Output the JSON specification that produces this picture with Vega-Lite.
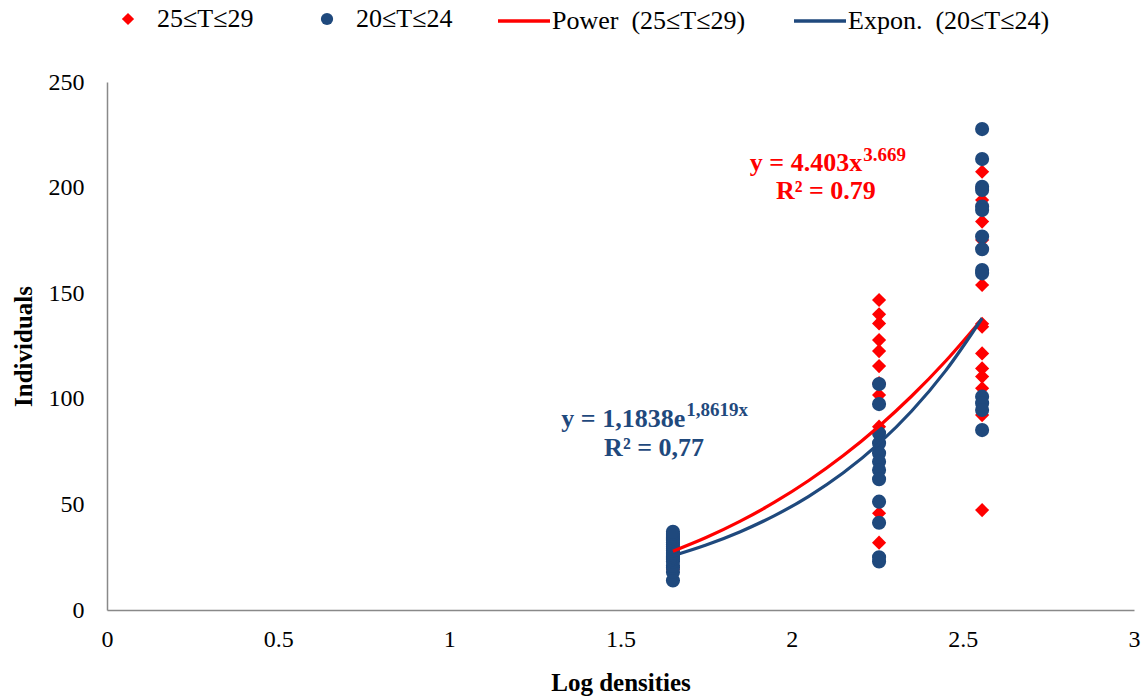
{
  "$schema": "https://vega.github.io/schema/vega-lite/v6.json",
  "width": 1027,
  "height": 528,
  "autosize": {"type": "none"},
  "padding": {"left": 107, "top": 82, "right": 13, "bottom": 89},
  "background": "white",
  "config": {
    "view": {"stroke": null},
    "font": "Liberation Serif",
    "axis": {
      "grid": false,
      "ticks": false,
      "domainColor": "#898989",
      "domainWidth": 1.5,
      "labelFont": "Liberation Serif",
      "labelFontSize": 24,
      "labelColor": "#000000",
      "titleFont": "Liberation Serif",
      "titleFontSize": 25,
      "titleFontWeight": "bold",
      "titleColor": "#000000"
    },
    "legend": {
      "labelFont": "Liberation Serif",
      "labelFontSize": 26,
      "labelColor": "#000000",
      "labelLimit": 0,
      "orient": "none",
      "direction": "horizontal",
      "padding": 0,
      "title": null
    }
  },
  "layer": [
    {
      "data": {
        "values": [
          {"x": 1.6532, "y": 19, "series": "25≤T≤29"},
          {"x": 1.6532, "y": 20, "series": "25≤T≤29"},
          {"x": 1.6532, "y": 21, "series": "25≤T≤29"},
          {"x": 1.6532, "y": 23, "series": "25≤T≤29"},
          {"x": 1.6532, "y": 24, "series": "25≤T≤29"},
          {"x": 1.6532, "y": 25, "series": "25≤T≤29"},
          {"x": 1.6532, "y": 27, "series": "25≤T≤29"},
          {"x": 1.6532, "y": 28, "series": "25≤T≤29"},
          {"x": 1.6532, "y": 30, "series": "25≤T≤29"},
          {"x": 1.6532, "y": 31, "series": "25≤T≤29"},
          {"x": 1.6532, "y": 32, "series": "25≤T≤29"},
          {"x": 1.6532, "y": 34, "series": "25≤T≤29"},
          {"x": 1.6532, "y": 35, "series": "25≤T≤29"},
          {"x": 1.6532, "y": 36, "series": "25≤T≤29"},
          {"x": 2.2553, "y": 146.8, "series": "25≤T≤29"},
          {"x": 2.2553, "y": 140, "series": "25≤T≤29"},
          {"x": 2.2553, "y": 135.7, "series": "25≤T≤29"},
          {"x": 2.2553, "y": 127.8, "series": "25≤T≤29"},
          {"x": 2.2553, "y": 122.6, "series": "25≤T≤29"},
          {"x": 2.2553, "y": 115.5, "series": "25≤T≤29"},
          {"x": 2.2553, "y": 107.5, "series": "25≤T≤29"},
          {"x": 2.2553, "y": 101.8, "series": "25≤T≤29"},
          {"x": 2.2553, "y": 86.8, "series": "25≤T≤29"},
          {"x": 2.2553, "y": 74.3, "series": "25≤T≤29"},
          {"x": 2.2553, "y": 45.8, "series": "25≤T≤29"},
          {"x": 2.2553, "y": 31.9, "series": "25≤T≤29"},
          {"x": 2.5563, "y": 207.5, "series": "25≤T≤29"},
          {"x": 2.5563, "y": 199.7, "series": "25≤T≤29"},
          {"x": 2.5563, "y": 194.1, "series": "25≤T≤29"},
          {"x": 2.5563, "y": 183.9, "series": "25≤T≤29"},
          {"x": 2.5563, "y": 175.2, "series": "25≤T≤29"},
          {"x": 2.5563, "y": 153.9, "series": "25≤T≤29"},
          {"x": 2.5563, "y": 135.5, "series": "25≤T≤29"},
          {"x": 2.5563, "y": 134.1, "series": "25≤T≤29"},
          {"x": 2.5563, "y": 121.5, "series": "25≤T≤29"},
          {"x": 2.5563, "y": 114.4, "series": "25≤T≤29"},
          {"x": 2.5563, "y": 110.5, "series": "25≤T≤29"},
          {"x": 2.5563, "y": 105, "series": "25≤T≤29"},
          {"x": 2.5563, "y": 92.3, "series": "25≤T≤29"},
          {"x": 2.5563, "y": 47.3, "series": "25≤T≤29"},
          {"x": 1.6532, "y": 14, "series": "20≤T≤24"},
          {"x": 1.6532, "y": 18, "series": "20≤T≤24"},
          {"x": 1.6532, "y": 20, "series": "20≤T≤24"},
          {"x": 1.6532, "y": 21, "series": "20≤T≤24"},
          {"x": 1.6532, "y": 23, "series": "20≤T≤24"},
          {"x": 1.6532, "y": 24, "series": "20≤T≤24"},
          {"x": 1.6532, "y": 25, "series": "20≤T≤24"},
          {"x": 1.6532, "y": 26, "series": "20≤T≤24"},
          {"x": 1.6532, "y": 27, "series": "20≤T≤24"},
          {"x": 1.6532, "y": 28, "series": "20≤T≤24"},
          {"x": 1.6532, "y": 29, "series": "20≤T≤24"},
          {"x": 1.6532, "y": 30, "series": "20≤T≤24"},
          {"x": 1.6532, "y": 31, "series": "20≤T≤24"},
          {"x": 1.6532, "y": 32, "series": "20≤T≤24"},
          {"x": 1.6532, "y": 33, "series": "20≤T≤24"},
          {"x": 1.6532, "y": 34, "series": "20≤T≤24"},
          {"x": 1.6532, "y": 35, "series": "20≤T≤24"},
          {"x": 1.6532, "y": 36, "series": "20≤T≤24"},
          {"x": 1.6532, "y": 37, "series": "20≤T≤24"},
          {"x": 2.2553, "y": 107, "series": "20≤T≤24"},
          {"x": 2.2553, "y": 97.5, "series": "20≤T≤24"},
          {"x": 2.2553, "y": 83.7, "series": "20≤T≤24"},
          {"x": 2.2553, "y": 78.9, "series": "20≤T≤24"},
          {"x": 2.2553, "y": 74.2, "series": "20≤T≤24"},
          {"x": 2.2553, "y": 70.2, "series": "20≤T≤24"},
          {"x": 2.2553, "y": 66.3, "series": "20≤T≤24"},
          {"x": 2.2553, "y": 61.9, "series": "20≤T≤24"},
          {"x": 2.2553, "y": 51.3, "series": "20≤T≤24"},
          {"x": 2.2553, "y": 41.3, "series": "20≤T≤24"},
          {"x": 2.2553, "y": 25, "series": "20≤T≤24"},
          {"x": 2.2553, "y": 23, "series": "20≤T≤24"},
          {"x": 2.5563, "y": 227.7, "series": "20≤T≤24"},
          {"x": 2.5563, "y": 213.5, "series": "20≤T≤24"},
          {"x": 2.5563, "y": 200.4, "series": "20≤T≤24"},
          {"x": 2.5563, "y": 198.9, "series": "20≤T≤24"},
          {"x": 2.5563, "y": 191, "series": "20≤T≤24"},
          {"x": 2.5563, "y": 189.4, "series": "20≤T≤24"},
          {"x": 2.5563, "y": 176.8, "series": "20≤T≤24"},
          {"x": 2.5563, "y": 170.8, "series": "20≤T≤24"},
          {"x": 2.5563, "y": 161, "series": "20≤T≤24"},
          {"x": 2.5563, "y": 159.4, "series": "20≤T≤24"},
          {"x": 2.5563, "y": 101, "series": "20≤T≤24"},
          {"x": 2.5563, "y": 97.9, "series": "20≤T≤24"},
          {"x": 2.5563, "y": 94.7, "series": "20≤T≤24"},
          {"x": 2.5563, "y": 85.2, "series": "20≤T≤24"}
        ]
      },
      "mark": {"type": "point", "filled": true, "opacity": 1, "strokeWidth": 0, "size": 200},
      "encoding": {
        "x": {
          "field": "x",
          "type": "quantitative",
          "scale": {"domain": [0, 3], "nice": false},
          "axis": {
            "title": "Log densities",
            "values": [0, 0.5, 1, 1.5, 2, 2.5, 3],
            "labelExpr": "'' + datum.value",
            "labelFont": "Liberation Serif",
            "labelFontSize": 24,
            "labelPadding": 17,
            "titleFont": "Liberation Serif",
            "titlePadding": 19,
            "labelFlush": false
          }
        },
        "y": {
          "field": "y",
          "type": "quantitative",
          "scale": {"domain": [0, 250], "nice": false},
          "axis": {
            "title": "Individuals",
            "values": [0, 50, 100, 150, 200, 250],
            "labelFont": "Liberation Serif",
            "labelFontSize": 24,
            "labelPadding": 23,
            "titleFont": "Liberation Serif",
            "titlePadding": 12
          }
        },
        "fill": {
          "field": "series",
          "type": "nominal",
          "scale": {"domain": ["25≤T≤29", "20≤T≤24"], "range": ["#FF0000", "#1F497D"]},
          "legend": {"legendX": 8, "legendY": -76, "symbolSize": 150, "labelOffset": 16, "columnPadding": 60, "labelFont": "Liberation Serif"}
        },
        "shape": {
          "field": "series",
          "type": "nominal",
          "scale": {"domain": ["25≤T≤29", "20≤T≤24"], "range": ["diamond", "circle"]}
        }
      }
    },
    {
      "data": {
        "values": [
          {"x": 1.6532, "y": 27.85, "trend": "Power\u00a0 (25≤T≤29)"},
          {"x": 1.75, "y": 34.31, "trend": "Power\u00a0 (25≤T≤29)"},
          {"x": 1.85, "y": 42.08, "trend": "Power\u00a0 (25≤T≤29)"},
          {"x": 1.95, "y": 51.04, "trend": "Power\u00a0 (25≤T≤29)"},
          {"x": 2.05, "y": 61.31, "trend": "Power\u00a0 (25≤T≤29)"},
          {"x": 2.15, "y": 73.02, "trend": "Power\u00a0 (25≤T≤29)"},
          {"x": 2.2553, "y": 87.03, "trend": "Power\u00a0 (25≤T≤29)"},
          {"x": 2.35, "y": 101.2, "trend": "Power\u00a0 (25≤T≤29)"},
          {"x": 2.45, "y": 117.9, "trend": "Power\u00a0 (25≤T≤29)"},
          {"x": 2.5563, "y": 137.8, "trend": "Power\u00a0 (25≤T≤29)"},
          {"x": 1.6532, "y": 25.71, "trend": "Expon.\u00a0 (20≤T≤24)"},
          {"x": 1.75, "y": 30.78, "trend": "Expon.\u00a0 (20≤T≤24)"},
          {"x": 1.85, "y": 37.09, "trend": "Expon.\u00a0 (20≤T≤24)"},
          {"x": 1.95, "y": 44.69, "trend": "Expon.\u00a0 (20≤T≤24)"},
          {"x": 2.05, "y": 53.84, "trend": "Expon.\u00a0 (20≤T≤24)"},
          {"x": 2.15, "y": 64.85, "trend": "Expon.\u00a0 (20≤T≤24)"},
          {"x": 2.2553, "y": 78.89, "trend": "Expon.\u00a0 (20≤T≤24)"},
          {"x": 2.35, "y": 94.1, "trend": "Expon.\u00a0 (20≤T≤24)"},
          {"x": 2.45, "y": 113.35, "trend": "Expon.\u00a0 (20≤T≤24)"},
          {"x": 2.5563, "y": 138.14, "trend": "Expon.\u00a0 (20≤T≤24)"}
        ]
      },
      "mark": {"type": "line", "strokeWidth": 3.2, "interpolate": "monotone"},
      "encoding": {
        "x": {"field": "x", "type": "quantitative"},
        "y": {"field": "y", "type": "quantitative"},
        "stroke": {
          "field": "trend",
          "type": "nominal",
          "scale": {"domain": ["Power\u00a0 (25≤T≤29)", "Expon.\u00a0 (20≤T≤24)"], "range": ["#FF0000", "#1F497D"]},
          "legend": {"legendX": 389, "legendY": -89, "symbolType": "stroke", "symbolSize": 2704, "symbolStrokeWidth": 3.5, "labelOffset": 0, "columnPadding": 41, "labelFont": "Liberation Serif"}
        }
      }
    },
    {
      "data": {
        "values": [
          {"x": 1.689, "y": 90.4, "label": "y = 1,1838e", "grp": "blue"},
          {"x": 2.206, "y": 211.6, "label": "y = 4.403x", "grp": "red"}
        ]
      },
      "mark": {"type": "text", "align": "right", "baseline": "middle", "font": "Liberation Serif", "fontSize": 26, "fontWeight": "bold"},
      "encoding": {
        "x": {"field": "x", "type": "quantitative"},
        "y": {"field": "y", "type": "quantitative"},
        "text": {"field": "label"},
        "color": {"condition": {"test": "datum.grp === 'red'", "value": "#FF0000"}, "value": "#1F497D"}
      }
    },
    {
      "data": {
        "values": [
          {"x": 1.692, "y": 94.7, "label": "1,8619x", "grp": "blue"},
          {"x": 2.209, "y": 215.4, "label": "3.669", "grp": "red"}
        ]
      },
      "mark": {"type": "text", "align": "left", "baseline": "middle", "font": "Liberation Serif", "fontSize": 19, "fontWeight": "bold"},
      "encoding": {
        "x": {"field": "x", "type": "quantitative"},
        "y": {"field": "y", "type": "quantitative"},
        "text": {"field": "label"},
        "color": {"condition": {"test": "datum.grp === 'red'", "value": "#FF0000"}, "value": "#1F497D"}
      }
    },
    {
      "data": {
        "values": [
          {"x": 1.598, "y": 76.7, "label": "R² = 0,77", "grp": "blue"},
          {"x": 2.1, "y": 198.4, "label": "R² = 0.79", "grp": "red"}
        ]
      },
      "mark": {"type": "text", "align": "center", "baseline": "middle", "font": "Liberation Serif", "fontSize": 26, "fontWeight": "bold"},
      "encoding": {
        "x": {"field": "x", "type": "quantitative"},
        "y": {"field": "y", "type": "quantitative"},
        "text": {"field": "label"},
        "color": {"condition": {"test": "datum.grp === 'red'", "value": "#FF0000"}, "value": "#1F497D"}
      }
    }
  ]
}
